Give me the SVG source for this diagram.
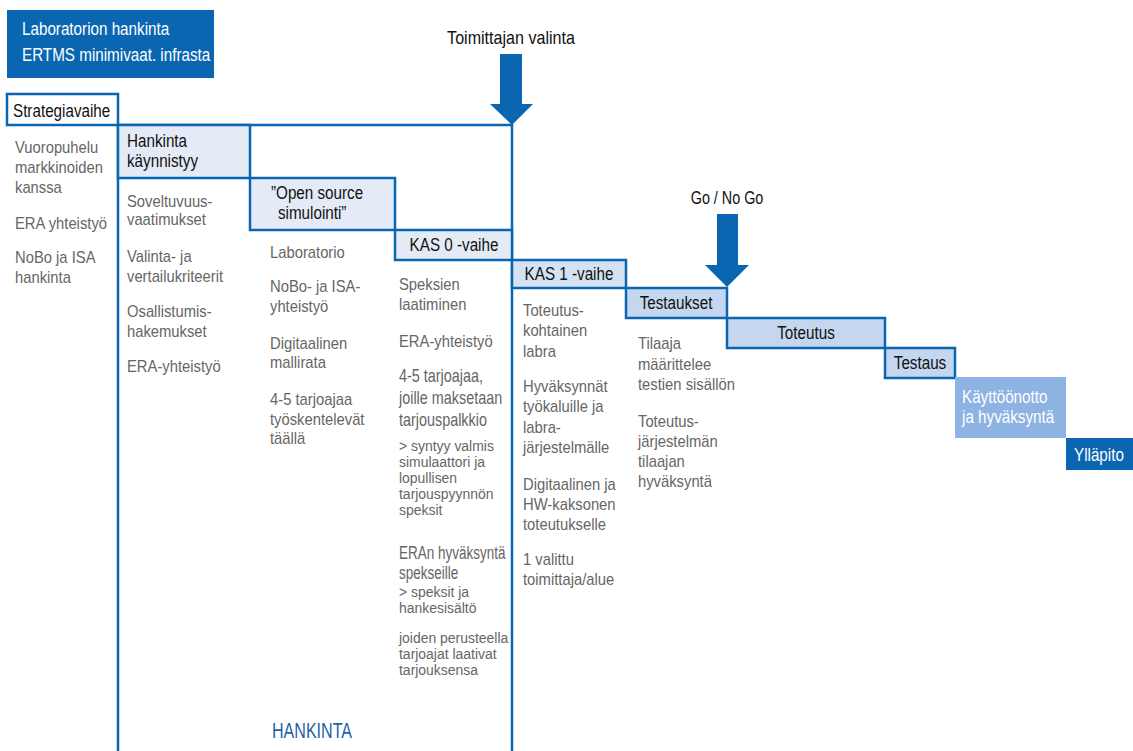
<svg xmlns="http://www.w3.org/2000/svg" width="1133" height="751" viewBox="0 0 1133 751">
  <style>
    text { font-family: "Liberation Sans", Arial, sans-serif; }
    .box { stroke: #0b66b2; stroke-width: 2.5; }
    .pale { fill: #e4ebf6; }
    .mid { fill: #d5e2f3; }
    .deep { fill: #c4d7ef; }
    .lbl { font-size: 17.5px; fill: #111; }
    .ctr { text-anchor: middle; }
    .body { font-size: 17px; fill: #666; }
    .small { font-size: 15.5px; fill: #666; }
    .big { font-size: 18px; fill: #666; }
    .huge { font-size: 19px; fill: #666; }
    .white { font-size: 17.5px; fill: #fff; }
    .frame { fill: none; stroke: #0b66b2; stroke-width: 2.5; }
    .arrow { fill: #0b66b2; }
  </style>

  <!-- title block -->
  <g id="title">
    <rect x="7" y="10" width="207" height="68" fill="#0b66b2"/>
    <g transform="translate(22,0) scale(0.87,1)">
      <text class="white" x="0" y="35">Laboratorion hankinta</text>
      <text class="white" x="0" y="61">ERTMS minimivaat. infrasta</text>
    </g>
  </g>

  <!-- procurement frame -->
  <g id="frame">
    <path class="frame" d="M118,751 V125 H512 V751"/>
    <g transform="translate(272,0) scale(0.73,1)">
      <text x="0" y="738" font-size="22" fill="#1f5fa8">HANKINTA</text>
    </g>
  </g>

  <!-- phase: strategy -->
  <g id="strategiavaihe">
    <rect class="box" x="7" y="94" width="111" height="31" fill="#fff"/>
    <g transform="translate(13,0) scale(0.87,1)">
      <text class="lbl" x="0" y="117">Strategiavaihe</text>
    </g>
    <g transform="translate(15,0) scale(0.87,1)">
      <text class="body" x="0" y="153">Vuoropuhelu</text>
      <text class="body" x="0" y="173">markkinoiden</text>
      <text class="body" x="0" y="193">kanssa</text>
      <text class="body" x="0" y="229">ERA yhteistyö</text>
      <text class="body" x="0" y="263">NoBo ja ISA</text>
      <text class="body" x="0" y="283">hankinta</text>
    </g>
  </g>

  <!-- phase: procurement start -->
  <g id="hankinta-kaynnistyy">
    <rect class="box pale" x="118" y="125" width="132" height="53"/>
    <g transform="translate(127,0) scale(0.87,1)">
      <text class="lbl" x="0" y="147">Hankinta</text>
      <text class="lbl" x="0" y="167">käynnistyy</text>
      <text class="body" x="0" y="207">Soveltuvuus-</text>
      <text class="body" x="0" y="225">vaatimukset</text>
      <text class="body" x="0" y="262">Valinta- ja</text>
      <text class="body" x="0" y="282">vertailukriteerit</text>
      <text class="body" x="0" y="317">Osallistumis-</text>
      <text class="body" x="0" y="337">hakemukset</text>
      <text class="body" x="0" y="372">ERA-yhteistyö</text>
    </g>
  </g>

  <!-- phase: open source simulation -->
  <g id="open-source">
    <rect class="box pale" x="250" y="178" width="145" height="52"/>
    <g transform="translate(271,0) scale(0.87,1)">
      <text class="lbl" x="0" y="199">”Open source</text>
      <text class="lbl" x="8" y="219">simulointi”</text>
    </g>
    <g transform="translate(270,0) scale(0.87,1)">
      <text class="body" x="0" y="258">Laboratorio</text>
      <text class="body" x="0" y="292">NoBo- ja ISA-</text>
      <text class="body" x="0" y="312">yhteistyö</text>
      <text class="body" x="0" y="349">Digitaalinen</text>
      <text class="body" x="0" y="368">mallirata</text>
      <text class="body" x="0" y="405">4-5 tarjoajaa</text>
      <text class="body" x="0" y="425">työskentelevät</text>
      <text class="body" x="0" y="444">täällä</text>
    </g>
  </g>

  <!-- phase: KAS 0 -->
  <g id="kas0">
    <rect class="box pale" x="395" y="230" width="117" height="30"/>
    <g transform="translate(454,0) scale(0.87,1)">
      <text class="lbl ctr" x="0" y="251">KAS 0 -vaihe</text>
    </g>
    <g transform="translate(399,0) scale(0.87,1)">
      <text class="body" x="0" y="290">Speksien</text>
      <text class="body" x="0" y="310">laatiminen</text>
      <text class="body" x="0" y="347">ERA-yhteistyö</text>
    </g>
    <g transform="translate(399,0) scale(0.8,1)">
      <text class="big" x="0" y="382">4-5 tarjoajaa,</text>
      <text class="big" x="0" y="404">joille maksetaan</text>
      <text class="big" x="0" y="426">tarjouspalkkio</text>
    </g>
    <g transform="translate(399,0) scale(0.71,1)">
      <text class="huge" x="0" y="559">ERAn hyväksyntä</text>
      <text class="huge" x="0" y="579">spekseille</text>
    </g>
    <g transform="translate(399,0) scale(0.9,1)">
      <text class="small" x="0" y="451">&gt; syntyy valmis</text>
      <text class="small" x="0" y="467">simulaattori ja</text>
      <text class="small" x="0" y="483">lopullisen</text>
      <text class="small" x="0" y="499">tarjouspyynnön</text>
      <text class="small" x="0" y="515">speksit</text>
      <text class="small" x="0" y="597">&gt; speksit ja</text>
      <text class="small" x="0" y="613">hankesisältö</text>
      <text class="small" x="0" y="643">joiden perusteella</text>
      <text class="small" x="0" y="659">tarjoajat laativat</text>
      <text class="small" x="0" y="675">tarjouksensa</text>
    </g>
  </g>

  <!-- phase: KAS 1 -->
  <g id="kas1">
    <rect class="box mid" x="512" y="260" width="114" height="28"/>
    <g transform="translate(569,0) scale(0.87,1)">
      <text class="lbl ctr" x="0" y="280">KAS 1 -vaihe</text>
    </g>
    <g transform="translate(523,0) scale(0.87,1)">
      <text class="body" x="0" y="316">Toteutus-</text>
      <text class="body" x="0" y="336">kohtainen</text>
      <text class="body" x="0" y="357">labra</text>
      <text class="body" x="0" y="392">Hyväksynnät</text>
      <text class="body" x="0" y="412">työkaluille ja</text>
      <text class="body" x="0" y="433">labra-</text>
      <text class="body" x="0" y="453">järjestelmälle</text>
      <text class="body" x="0" y="490">Digitaalinen ja</text>
      <text class="body" x="0" y="510">HW-kaksonen</text>
      <text class="body" x="0" y="530">toteutukselle</text>
      <text class="body" x="0" y="565">1 valittu</text>
      <text class="body" x="0" y="585">toimittaja/alue</text>
    </g>
  </g>

  <!-- phase: tests -->
  <g id="testaukset">
    <rect class="box deep" x="626" y="288" width="101" height="30"/>
    <g transform="translate(676,0) scale(0.87,1)">
      <text class="lbl ctr" x="0" y="309">Testaukset</text>
    </g>
    <g transform="translate(638,0) scale(0.87,1)">
      <text class="body" x="0" y="349">Tilaaja</text>
      <text class="body" x="0" y="370">määrittelee</text>
      <text class="body" x="0" y="390">testien sisällön</text>
      <text class="body" x="0" y="427">Toteutus-</text>
      <text class="body" x="0" y="447">järjestelmän</text>
      <text class="body" x="0" y="467">tilaajan</text>
      <text class="body" x="0" y="487">hyväksyntä</text>
    </g>
  </g>

  <!-- phase: implementation -->
  <g id="toteutus">
    <rect class="box deep" x="727" y="318" width="158" height="30"/>
    <g transform="translate(806,0) scale(0.87,1)">
      <text class="lbl ctr" x="0" y="339">Toteutus</text>
    </g>
  </g>

  <!-- phase: testing -->
  <g id="testaus">
    <rect class="box deep" x="885" y="348" width="70" height="30"/>
    <g transform="translate(920,0) scale(0.87,1)">
      <text class="lbl ctr" x="0" y="369">Testaus</text>
    </g>
  </g>

  <!-- phase: commissioning -->
  <g id="kayttoonotto">
    <rect x="955" y="377" width="111" height="61" fill="#8db3e2"/>
    <g transform="translate(962,0) scale(0.87,1)">
      <text class="white" x="0" y="403">Käyttöönotto</text>
      <text class="white" x="0" y="423">ja hyväksyntä</text>
    </g>
  </g>

  <!-- phase: maintenance -->
  <g id="yllapito">
    <rect x="1066" y="438" width="67" height="32" fill="#0b66b2"/>
    <g transform="translate(1074,0) scale(0.87,1)">
      <text class="white" x="0" y="461">Ylläpito</text>
    </g>
  </g>

  <!-- milestone arrows -->
  <g id="connectors">
    <g transform="translate(511,0) scale(0.92,1)">
      <text class="lbl ctr" x="0" y="44">Toimittajan valinta</text>
    </g>
    <polygon class="arrow" points="500,54 522,54 522,104 533,104 512,125 490,104 500,104"/>
    <g transform="translate(727,0) scale(0.82,1)">
      <text class="lbl ctr" x="0" y="204">Go / No Go</text>
    </g>
    <polygon class="arrow" points="717,214 738,214 738,265 749,265 727,287 705,265 717,265"/>
  </g>
</svg>
